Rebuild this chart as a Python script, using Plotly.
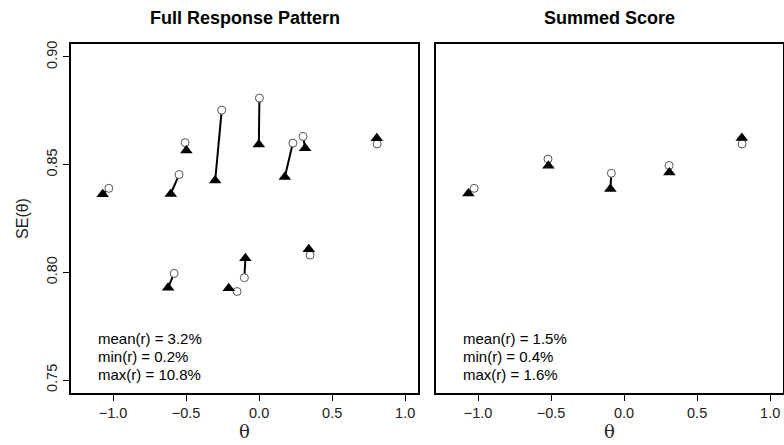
import plotly.graph_objects as go

# ---- data ----
frp_circle_x = [-1.029, -0.507, -0.548, -0.256, 0.002, 0.231, 0.301, 0.808, 0.349, -0.101, -0.151, -0.582]
frp_circle_y = [0.8390, 0.8602, 0.8454, 0.8753, 0.8809, 0.8600, 0.8631, 0.8596, 0.8080, 0.7975, 0.7911, 0.7995]
frp_tri_x = [-1.071, -0.498, -0.605, -0.301, -0.002, 0.176, 0.315, 0.806, 0.340, -0.094, -0.208, -0.623]
frp_tri_y = [0.8363, 0.8566, 0.8364, 0.8426, 0.8594, 0.8443, 0.8576, 0.8622, 0.8107, 0.8065, 0.7926, 0.7929]

ss_circle_x = [-1.027, -0.521, -0.087, 0.308, 0.808]
ss_circle_y = [0.8390, 0.8526, 0.8460, 0.8496, 0.8596]
ss_tri_x = [-1.066, -0.518, -0.094, 0.310, 0.806]
ss_tri_y = [0.8366, 0.8495, 0.8387, 0.8464, 0.8624]

panel_titles = ["Full Response Pattern", "Summed Score"]
stats_left = ["mean(r) = 3.2%", "min(r) = 0.2%", "max(r) = 10.8%"]
stats_right = ["mean(r) = 1.5%", "min(r) = 0.4%", "max(r) = 1.6%"]
stat_y = [0.7694, 0.7611, 0.7528]
x_ticks = [-1.0, -0.5, 0.0, 0.5, 1.0]
y_ticks = [0.75, 0.80, 0.85, 0.90]

FONT = "Liberation Sans, Arial, Helvetica, sans-serif"

fig = go.Figure()


def add_panel(cx, cy, tx, ty, xref, yref):
    sx, sy = [], []
    for a, b, c, d in zip(cx, cy, tx, ty):
        sx += [a, c, None]
        sy += [b, d, None]
    fig.add_trace(go.Scatter(x=sx, y=sy, mode="lines", line=dict(color="black", width=2),
                             xaxis=xref, yaxis=yref, showlegend=False, hoverinfo="skip"))
    fig.add_trace(go.Scatter(x=cx, y=cy, mode="markers",
                             marker=dict(symbol="circle", size=8, color="white",
                                         line=dict(color="#555555", width=1)),
                             xaxis=xref, yaxis=yref, showlegend=False))
    fig.add_trace(go.Scatter(x=tx, y=ty, mode="markers",
                             marker=dict(symbol="triangle-up", size=11, color="black",
                                         line=dict(width=0)),
                             xaxis=xref, yaxis=yref, showlegend=False))


add_panel(frp_circle_x, frp_circle_y, frp_tri_x, frp_tri_y, "x", "y")
add_panel(ss_circle_x, ss_circle_y, ss_tri_x, ss_tri_y, "x2", "y2")

axis_common = dict(showgrid=False, zeroline=False, showline=True, mirror=True,
                   linecolor="black", linewidth=1.5, ticks="outside", ticklen=6,
                   tickcolor="black", tickwidth=1,
                   tickfont=dict(family=FONT, size=14.5, color="#222222"))

xr = [-1.288, 1.088]
yr = [0.744, 0.906]
theta_font = dict(family="DejaVu Serif, serif", size=18, color="#222222")

fig.update_layout(
    width=784, height=445,
    margin=dict(l=71, r=1, t=44, b=52, autoexpand=False),
    plot_bgcolor="white", paper_bgcolor="white",
    xaxis=dict(domain=[0, 0.4874], range=xr, tickvals=x_ticks, tickformat=".1f",
               title=dict(text="θ", font=theta_font, standoff=4), automargin=False,
               **axis_common),
    xaxis2=dict(domain=[0.5126, 1], range=xr, tickvals=x_ticks, tickformat=".1f",
                title=dict(text="θ", font=theta_font, standoff=4), automargin=False,
                **axis_common),
    yaxis=dict(range=yr, tickvals=y_ticks, tickformat=".2f", tickangle=-90, anchor="x",
               title=dict(text="SE(θ)", font=dict(family=FONT, size=16, color="#222222"), standoff=12),
               automargin=False, **axis_common),
    yaxis2=dict(range=yr, tickvals=y_ticks, showticklabels=False, ticks="", anchor="x2",
                automargin=False,
                **{k: v for k, v in axis_common.items() if k not in ("ticks",)}),
)

# titles
for i, t in enumerate(panel_titles):
    fig.add_annotation(text="<b>%s</b>" % t, xref="x domain" if i == 0 else "x2 domain", yref="paper",
                       x=0.5, y=1, yshift=26, xanchor="center", yanchor="middle", showarrow=False,
                       font=dict(family=FONT, size=18, color="black"))

# stats
for labels, xref, yref in [(stats_left, "x", "y"), (stats_right, "x2", "y2")]:
    for lab, yy in zip(labels, stat_y):
        fig.add_annotation(text=lab, x=-1.12, y=yy, xref=xref, yref=yref, xanchor="left",
                           yanchor="middle", showarrow=False,
                           font=dict(family=FONT, size=15, color="black"))

fig.write_html("out.html", config={"displayModeBar": False},
               post_script="document.body.style.margin='0';document.body.style.padding='0';")
